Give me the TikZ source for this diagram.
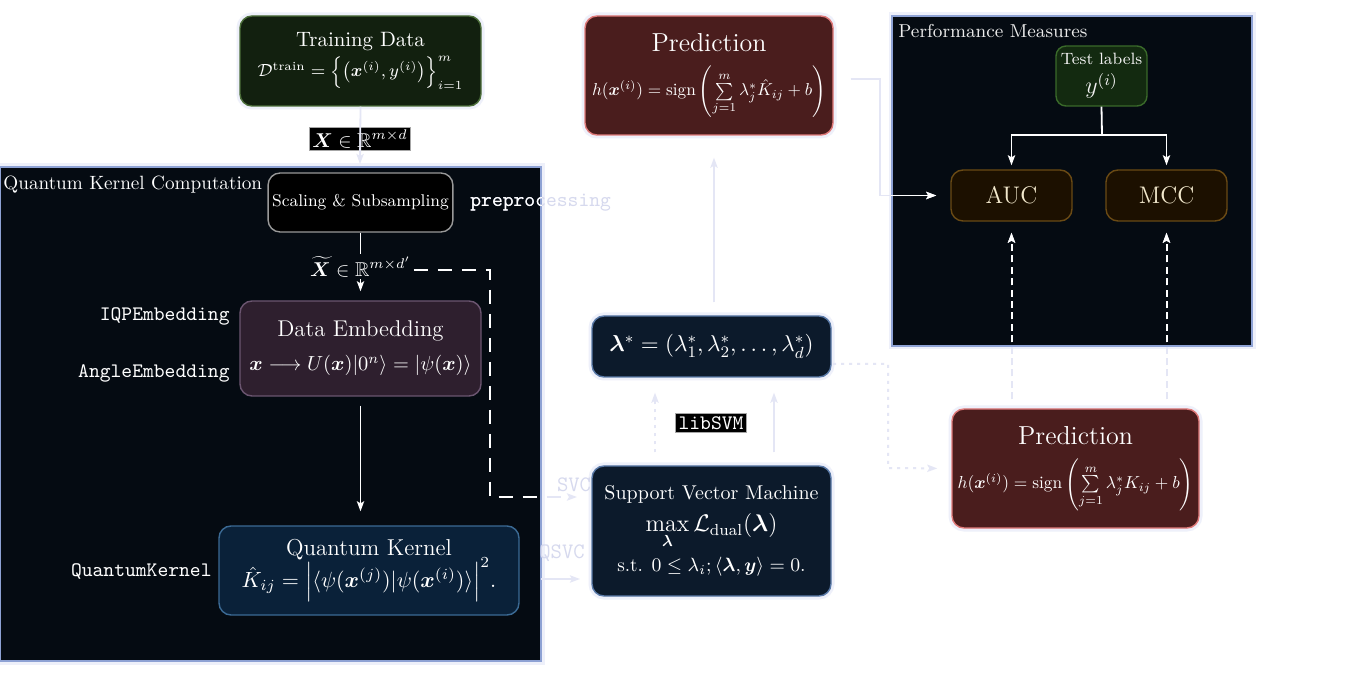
\RequirePackage{fix-cm}
\documentclass[tikz,border=0pt]{standalone}
\usepackage{amsmath,amssymb,bm}
\usepackage{graphicx}
\usepackage{fontspec}
\usetikzlibrary{arrows.meta,calc}
\definecolor{bgdark}{HTML}{050B12}
\definecolor{contborder}{HTML}{8EA2D4}
\definecolor{faintc}{HTML}{E4E6F5}
\definecolor{haloc}{HTML}{EEF0FA}
\definecolor{fainttext}{HTML}{D6D9EE}
\definecolor{trainfill}{HTML}{12200F}
\definecolor{trainbord}{HTML}{4C6E3A}
\definecolor{embfill}{HTML}{2E1F2E}
\definecolor{embbord}{HTML}{6B5570}
\definecolor{qkfill}{HTML}{0A2139}
\definecolor{qkbord}{HTML}{3B6A94}
\definecolor{predfill}{HTML}{4A1D1D}
\definecolor{predbord}{HTML}{E07A7A}
\definecolor{navyfill}{HTML}{0C1A2B}
\definecolor{navybord}{HTML}{5A7AA8}
\definecolor{testfill}{HTML}{132A10}
\definecolor{testbord}{HTML}{3A6A2A}
\definecolor{metfill}{HTML}{1C1000}
\definecolor{metbord}{HTML}{6A4A14}
\definecolor{mettext}{HTML}{F2E8CC}
\tikzset{
  box/.style={draw, rounded corners=6pt, line width=0.7pt, align=center, text=white, inner sep=2pt},
  halo/.style={preaction={draw=haloc, line width=3.5pt}},
  cont/.style={draw=contborder, fill=bgdark, line width=0.8pt, inner sep=0pt},
  faintln/.style={draw=faintc, line width=0.9pt},
  whiteln/.style={draw=white, line width=0.9pt},
  arr/.style={-{Stealth[length=5pt,width=3.6pt,inset=1pt]}},
  bigdash/.style={dash pattern=on 7pt off 5pt, line width=1pt},
  finedash/.style={dash pattern=on 3.5pt off 2.2pt, line width=1pt},
  dotline/.style={dash pattern=on 1.5pt off 2.5pt, line width=1pt},
  codelab/.style={font=\fontsize{10.3}{12}\selectfont\ttfamily, text=white, inner sep=1pt},
  faintcode/.style={font=\fontsize{10.3}{12}\selectfont\ttfamily, text=fainttext, inner sep=1pt},
  blacklab/.style={fill=black, draw=gray!70, line width=0.4pt, inner sep=1.5pt, text=white}
}
\begin{document}
\begin{tikzpicture}[x=0.5pt,y=-0.5pt]
\useasboundingbox (0,0) rectangle (1360,673);
\fill[white] (0,0) rectangle (1360,673);

% containers
\node[cont, halo, minimum width=270.5pt, minimum height=247pt] (qkc) at (270.5,414) {};
\node[cont, halo, minimum width=180pt, minimum height=165pt] (perf) at (1072,181) {};
\node[anchor=west, text=white, font=\fontsize{9.6}{11}\selectfont, inner sep=0pt] (qkctitle) at (3,185) {Quantum Kernel Computation};
\node[anchor=west, text=white!85!gray, font=\fontsize{9.35}{11}\selectfont, inner sep=0pt] (perftitle) at (898,31) {Performance Measures};

% boxes
\node[box, halo, draw=trainbord, fill=trainfill, minimum width=120.5pt, minimum height=45pt, font=\fontsize{10.4}{13}\selectfont] (train) at (360.5,61)
  {Training Data\\[2pt] {\fontsize{8.8}{12}\selectfont $\mathcal{D}^{\text{train}}=\Bigl\{\bigl(\bm{x}^{(i)},y^{(i)}\bigr)\Bigr\}_{i=1}^{m}$}};
\node[box, draw=gray!80, fill=black, minimum width=90.5pt, minimum height=29.5pt, font=\fontsize{8.5}{10}\selectfont] (scale) at (360.5,202.5) {Scaling \& Subsampling};
\node[box, draw=embbord, fill=embfill, minimum width=120.5pt, minimum height=47.5pt, font=\fontsize{10.2}{13}\selectfont] (embed) at (360.5,348.5)
  {{\fontsize{11.4}{13}\selectfont Data Embedding}\\[4pt] $\bm{x}\longrightarrow U(\bm{x})|0^{n}\rangle=|\psi(\bm{x})\rangle$};
\node[box, draw=qkbord, fill=qkfill, minimum width=150pt, minimum height=44.5pt, font=\fontsize{11}{13}\selectfont] (qk) at (369,570.5)
  {{\fontsize{11.5}{13}\selectfont Quantum Kernel}\\[-2pt] $\hat{K}_{ij}=\Bigl|\langle\psi(\bm{x}^{(j)})|\psi(\bm{x}^{(i)})\rangle\Bigr|^{2}.$};
\node[box, halo, draw=predbord, fill=predfill, minimum width=124pt, minimum height=59.5pt, font=\fontsize{10}{12}\selectfont] (predT) at (709,75.5)
  {{\fontsize{13}{15}\selectfont Prediction}\\[6pt] \resizebox{117pt}{!}{$h(\bm{x}^{(i)})=\operatorname{sign}\left(\sum\limits_{j=1}^{m}\lambda_j^{*}\hat{K}_{ij}+b\right)$}};
\node[box, halo, draw=navybord, fill=navyfill, minimum width=119.5pt, minimum height=30.5pt, font=\fontsize{11.5}{13}\selectfont] (lam) at (711.5,346.5)
  {$\bm{\lambda}^{*}=(\lambda_1^{*},\lambda_2^{*},\ldots,\lambda_d^{*})$};
\node[box, halo, draw=navybord, fill=navyfill, minimum width=119.5pt, minimum height=65pt, font=\fontsize{9.6}{12}\selectfont] (svm) at (711.5,531)
  {{\fontsize{10}{12}\selectfont Support Vector Machine}\\[4pt] {\fontsize{12}{14}\selectfont $\displaystyle\max_{\bm{\lambda}}\mathcal{L}_{\text{dual}}(\bm{\lambda})$}\\[3pt] s.t. $0\le\lambda_i;\langle\bm{\lambda},\bm{y}\rangle=0.$};
\node[box, rounded corners=5pt, draw=testbord, fill=testfill, minimum width=45.5pt, minimum height=30pt, font=\fontsize{8.2}{10}\selectfont, text=white!90!gray] (test) at (1101.5,76)
  {Test labels\\[3pt] {\fontsize{12}{14}\selectfont $y^{(i)}$}};
\node[box, draw=metbord, fill=metfill, minimum width=60.5pt, minimum height=25.5pt, font=\fontsize{12}{14}\selectfont, text=mettext] (auc) at (1011.5,195.5) {AUC};
\node[box, draw=metbord, fill=metfill, minimum width=60.5pt, minimum height=25.5pt, font=\fontsize{12}{14}\selectfont, text=mettext] (mcc) at (1166.5,195.5) {MCC};
\node[box, halo, draw=predbord, fill=predfill, minimum width=123.5pt, minimum height=59.5pt, font=\fontsize{10}{12}\selectfont] (predB) at (1075.5,468.5)
  {{\fontsize{13}{15}\selectfont Prediction}\\[6pt] \resizebox{118pt}{!}{$h(\bm{x}^{(i)})=\operatorname{sign}\left(\sum\limits_{j=1}^{m}\lambda_j^{*}K_{ij}+b\right)$}};

% side labels
\node[codelab, anchor=east] (iqp) at (232,316) {IQPEmbedding};
\node[codelab, anchor=east] (angle) at (232,373) {AngleEmbedding};
\node[codelab, anchor=east] (qklab) at (214,572) {QuantumKernel};
\node[blacklab, font=\fontsize{10}{12}\selectfont] (xlab) at (360,139) {$\bm{X}\in\mathbb{R}^{m\times d}$};
\node[blacklab, font=\fontsize{10.3}{12}\selectfont\ttfamily] (libsvm) at (711,423) {libSVM};
\node[faintcode, font=\fontsize{11}{12}\selectfont\ttfamily] (svclab) at (574,485) {SVC};
\node[faintcode, font=\fontsize{11}{12}\selectfont\ttfamily] (qsvclab) at (562,553) {QSVC};

% preprocessing label: faint outside, white inside container
\node[faintcode, anchor=west] (prep) at (468,203) {preprocessing};
\begin{scope}
  \clip (qkc.north west) rectangle (qkc.south east);
  \node[codelab, anchor=west] at (468,203) {preprocessing};
\end{scope}

% white connectors inside containers
\draw[whiteln, arr, shorten >=9*0.5pt] (scale.south) -- node[fill=bgdark, text=white, inner sep=1pt, font=\fontsize{10}{12}\selectfont] (xtl) {$\widetilde{\bm{X}}\in\mathbb{R}^{m\times d'}$} (embed.north);
\draw[whiteln, arr, shorten <=9*0.5pt, shorten >=14*0.5pt] (embed.south) -- (embed.south |- qk.north);
\coordinate (tb) at (1102,135);
\draw[whiteln] (test.south) -- (tb);
\draw[whiteln, arr, shorten >=4*0.5pt] (tb) -| (auc.north);
\draw[whiteln, arr, shorten >=4*0.5pt] (tb) -| (mcc.north);

% helper coordinates
\coordinate (dA) at (490,270);
\coordinate (dB) at (490,497);
\coordinate (dEnd) at (577,497);
\coordinate (qsStart) at (541,579);
\coordinate (qsEnd) at (580,579);
\coordinate (trEnd) at (360,164);
\coordinate (pA) at (880,79);
\coordinate (lA) at (833,364);
\coordinate (lB) at (888,364);
\coordinate (lC) at (888,468);

% faint connectors (whole paths)
\draw[faintln, arr] (train.south) -- (trEnd);
\draw[faintln, arr, bigdash] (xtl.east |- dA) -- (dA) -- (dB) -- (dEnd);
\draw[faintln, arr] (qsStart) -- (qsEnd);
\draw[faintln, arr, shorten <=17*0.5pt, shorten >=14*0.5pt] (predT.east |- pA) -| (pA |- auc.west) -- (auc.west);
\draw[faintln, arr, shorten <=13*0.5pt, shorten >=22*0.5pt] (lam.north -| 714,0) -- (predT.south -| 714,0);
\draw[faintln, arr, dotline, shorten <=13*0.5pt, shorten >=15*0.5pt] (svm.north -| 655,0) -- (lam.south -| 655,0);
\draw[faintln, arr, shorten <=13*0.5pt, shorten >=15*0.5pt] (svm.north -| 774,0) -- (lam.south -| 774,0);
\draw[faintln, arr, dotline, shorten >=14*0.5pt] (lA) -- (lB) -- (lC) -- (predB.west);
\draw[faintln, arr, finedash, shorten <=9*0.5pt, shorten >=11*0.5pt] (predB.north -| auc.south) -- (auc.south);
\draw[faintln, arr, finedash, shorten <=9*0.5pt, shorten >=11*0.5pt] (predB.north -| mcc.south) -- (mcc.south);

% the same connectors, white inside the dark containers
\begin{scope}
  \clip (qkc.north west) rectangle (qkc.south east) (perf.north west) rectangle (perf.south east);
  \draw[whiteln, arr, bigdash] (xtl.east |- dA) -- (dA) -- (dB) -- (dEnd);
  \draw[whiteln, arr, shorten <=17*0.5pt, shorten >=14*0.5pt] (predT.east |- pA) -| (pA |- auc.west) -- (auc.west);
  \draw[whiteln, arr, finedash, shorten <=9*0.5pt, shorten >=11*0.5pt] (predB.north -| auc.south) -- (auc.south);
  \draw[whiteln, arr, finedash, shorten <=9*0.5pt, shorten >=11*0.5pt] (predB.north -| mcc.south) -- (mcc.south);
\end{scope}
\end{tikzpicture}
\end{document}
